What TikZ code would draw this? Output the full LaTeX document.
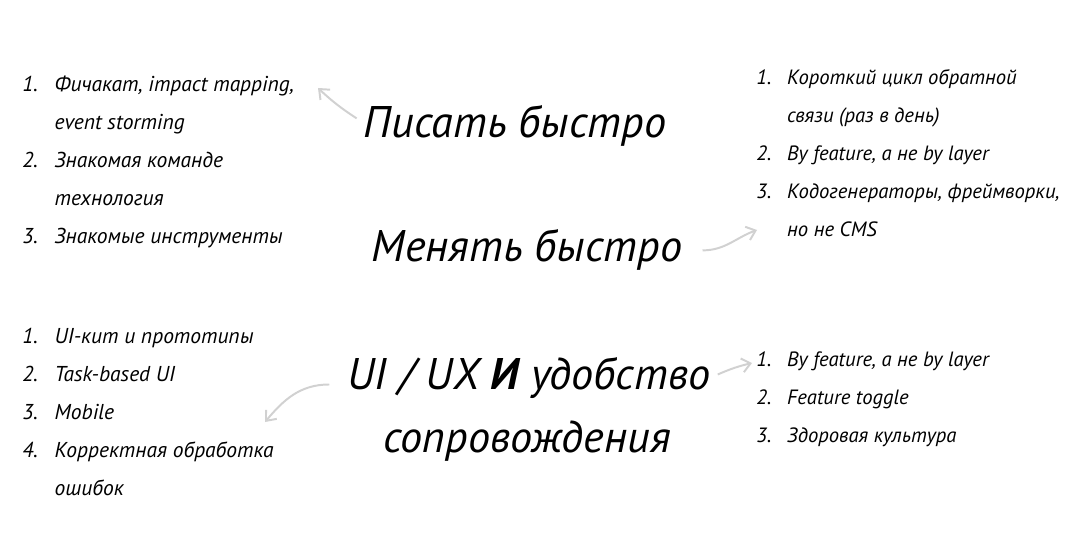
\documentclass[tikz,border=0pt]{standalone}
\usepackage{fontspec}
\setmainfont{PT Sans}
\usetikzlibrary{arrows.meta}

\tikzset{
  listtext/.style={font=\itshape\fontsize{#1}{27}\selectfont, inner sep=0pt},
  listtext/.default=15.3,
  titletext/.style={font=\itshape\fontsize{31.5}{44}\selectfont, inner sep=0pt},
  hint/.style={draw=black!18, line width=1.4pt, -{Straight Barb[length=6pt,width=10pt]}}
}

\begin{document}
\begin{tikzpicture}[x=0.025cm, y=-0.025cm]
            \useasboundingbox (0, 0) rectangle (1068, 538);

            % titles in the middle
            \node[titletext, anchor=base] (pisat) at (515, 138) {Писать быстро};
            \node[titletext, anchor=base] (menyat) at (527, 262) {Менять быстро};
            \node[titletext, anchor=base] (uiux) at (529, 390) {UI / UX {\bfseries И} удобство};
            \node[titletext, anchor=base] (uiuxb) at (527, 452) {сопровождения};

            % lists
            \node[listtext, anchor=base west] (pisatlist) at (22, 92) {\begin{tabular}[t]{@{}p{23pt}@{}l@{}}
                1. & Фичакат, impact mapping,\\
                   & event storming\\
                2. & Знакомая команде\\
                   & технология\\
                3. & Знакомые инструменты
            \end{tabular}};
            \node[listtext=14.7, anchor=base west] (menyatlist) at (756, 85) {\begin{tabular}[t]{@{}p{22pt}@{}l@{}}
                1. & Короткий цикл обратной\\
                   & связи (раз в день)\\
                2. & By feature, а не by layer\\
                3. & Кодогенераторы, фреймворки,\\
                   & но не CMS
            \end{tabular}};
            \node[listtext, anchor=base west] (uilist) at (22, 344) {\begin{tabular}[t]{@{}p{23pt}@{}l@{}}
                1. & UI-кит и прототипы\\
                2. & Task-based UI\\
                3. & Mobile\\
                4. & Корректная обработка\\
                   & ошибок
            \end{tabular}};
            \node[listtext=14.7, anchor=base west] (uxlist) at (756, 367) {\begin{tabular}[t]{@{}p{22pt}@{}l@{}}
                1. & By feature, а не by layer\\
                2. & Feature toggle\\
                3. & Здоровая культура
            \end{tabular}};

            % arrow tips near the lists
            \coordinate (pisattip) at (318, 88);
            \coordinate (menyattip) at (757, 230);
            \coordinate (uxtip) at (752, 363);
            \coordinate (uitip) at (265, 422);

            % arrows
            \draw[hint] ([shift={(-7, -8)}]pisat.west) to[bend left=5] (pisattip);
            \draw[hint] ([shift={(20, 0)}]menyat.east) to[out=0, in=200] (menyattip);
            \draw[hint] ([shift={(7, -4)}]uiux.east) to[bend left=5] (uxtip);
            \draw[hint] ([shift={(-18, 6)}]uiux.west) to[out=180, in=50] (uitip);
        \end{tikzpicture}
\end{document}
